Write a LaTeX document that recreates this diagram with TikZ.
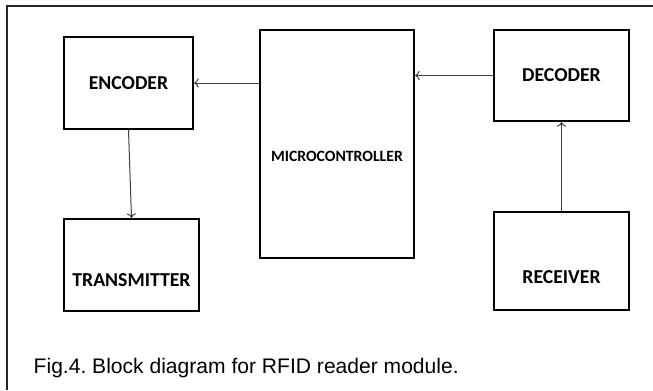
\documentclass[tikz,border=0pt]{standalone}
\usepackage{fontspec}
\setmainfont{Carlito}
\newfontfamily\capfont{Liberation Sans}
\usetikzlibrary{arrows.meta}

\begin{document}
\begin{tikzpicture}[x=0.75pt,y=-0.75pt]
\tikzstyle{block} = [rectangle, draw=black, line width=1.5pt, text centered,
font=\bfseries\fontsize{14.8}{16}\selectfont]
\tikzstyle{lowtext} = [text height=#1, text depth=0pt]
\tikzstyle{line} = [draw, line width=0.75pt, black!75, -{To[length=3.5pt,width=7pt]}];
\tikzstyle{caption} = [anchor=base west, font=\capfont\fontsize{15.8}{18}\selectfont];
\useasboundingbox (0,0) rectangle (653,390);
\draw [line width=1pt, black!85] (7,390) -- (7,6) -- (653,6);
% left column
\node [block, minimum width=96.75pt, minimum height=69pt] (encoder) at (128.5,83) {ENCODER};
\node [block, lowtext=32.8pt, minimum width=101.25pt, minimum height=69pt] (transmitter) at (131.5,265) {TRANSMITTER};
% middle
\node [block, lowtext=25.5pt, minimum width=115.5pt, minimum height=171pt,
font=\bfseries\fontsize{11.8}{14}\selectfont] (micro) at (337,144) {MICROCONTROLLER};
% right column
\node [block, minimum width=101.25pt, minimum height=68.25pt] (decoder) at (561.5,75.5) {DECODER};
\node [block, lowtext=34.3pt, minimum width=101.25pt, minimum height=73.5pt] (receiver) at (561.5,261) {RECEIVER};
% caption
\node [caption] (fig) at (29,373) {\frenchspacing Fig.4. Block diagram for RFID reader module.};
\tikzstyle{every path}=[line]
\path (micro.west |- encoder.east) -- (encoder.east);
\path (encoder.south) -- (transmitter.north);
\path (decoder.west) -- (micro.east |- decoder.west);
\path (receiver.north) -- (decoder.south);
\end{tikzpicture}
\end{document}
